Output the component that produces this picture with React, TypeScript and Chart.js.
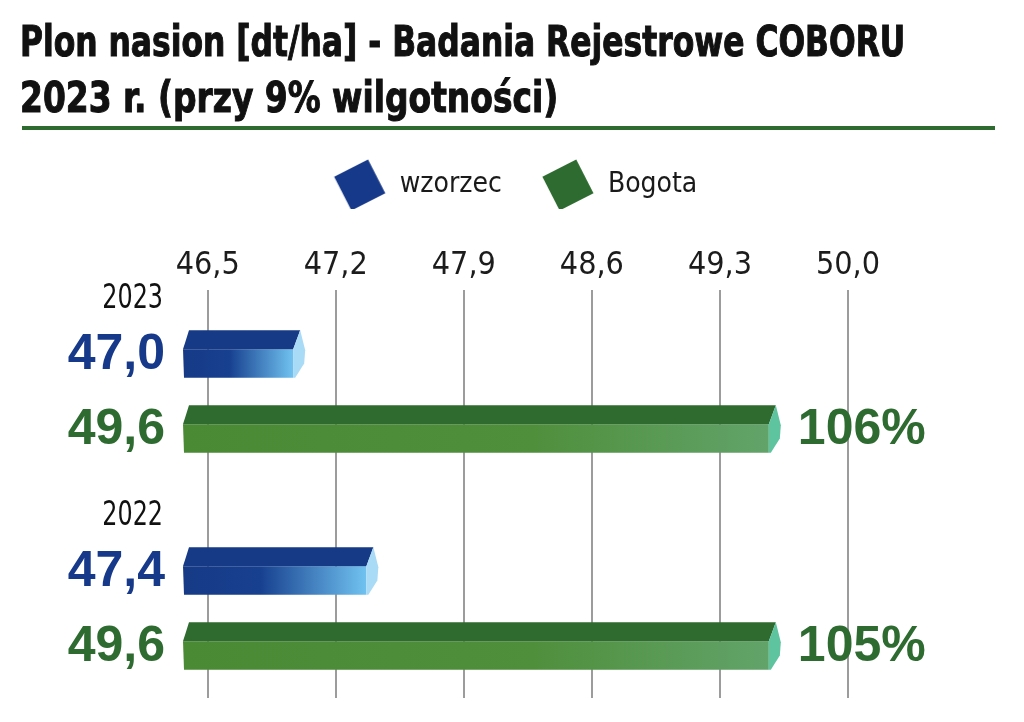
import { useEffect, useLayoutEffect, useRef } from 'react';
import Chart from 'chart.js/auto';

const years = ['2023', '2022'];
const seriesNames = ['wzorzec', 'Bogota'];
const wzorzec = [47.0, 47.4];
const bogota = [49.6, 49.6];
const bogotaPercent = [106, 105];
const tickValues = [46.5, 47.2, 47.9, 48.6, 49.3, 50.0];
const X_MIN = 46.365;
const X_MAX = 50.0;

const BLUE = '#17398a';
const GREEN = '#2e6b30';
const NARROW = '"DejaVu Sans Condensed", "DejaVu Sans", sans-serif';
const BOLD = '"Liberation Sans", Arial, sans-serif';

// colours for the fake 3D bars: top face, front gradient, end cap
const barStyles = [
  {
    top: '#163a86',
    front: [[0, '#163a86'], [0.42, '#17408f'], [1, '#70c2f0']] as [number, string][],
    cap: '#a9daf6',
  },
  {
    top: '#2f6a2f',
    front: [[0, '#4a8a35'], [0.6, '#4f8f3c'], [1, '#62a36a']] as [number, string][],
    cap: '#5ec4a0',
  },
];

const fmt = (v: number) => v.toFixed(1).replace('.', ',');

function makeIcon(color: string) {
  const c = document.createElement('canvas');
  c.width = 56;
  c.height = 56;
  const ctx = c.getContext('2d')!;
  ctx.translate(28, 28);
  ctx.rotate((-27 * Math.PI) / 180);
  ctx.fillStyle = color;
  ctx.fillRect(-19, -19, 38, 38);
  return c;
}

function drawBar(ctx: CanvasRenderingContext2D, base: number, x: number, y: number, h: number, st: typeof barStyles[0]) {
  const top = y - h / 2;
  const bottom = y + h / 2;
  const mid = top + h * 0.4;
  const xf = x - 6;

  const g = ctx.createLinearGradient(base, 0, xf, 0);
  st.front.forEach(([o, c]) => g.addColorStop(o, c));
  ctx.fillStyle = g;
  ctx.beginPath();
  ctx.moveTo(base, mid);
  ctx.lineTo(xf, mid);
  ctx.lineTo(xf, bottom);
  ctx.lineTo(base + 1, bottom);
  ctx.closePath();
  ctx.fill();

  ctx.fillStyle = st.top;
  ctx.beginPath();
  ctx.moveTo(base, mid);
  ctx.lineTo(base + 6, top);
  ctx.lineTo(xf + 7, top);
  ctx.lineTo(xf, mid);
  ctx.closePath();
  ctx.fill();

  ctx.fillStyle = st.cap;
  ctx.beginPath();
  ctx.moveTo(xf, mid);
  ctx.lineTo(xf + 7, top);
  ctx.lineTo(xf + 12, top + h * 0.42);
  ctx.lineTo(xf + 11, bottom - h * 0.3);
  ctx.lineTo(xf + 2, bottom);
  ctx.lineTo(xf, bottom);
  ctx.closePath();
  ctx.fill();
}

const decorPlugin = {
  id: 'decor',
  beforeDatasetsDraw(chart: any) {
    const { ctx, chartArea, scales } = chart;
    const xs = scales.x;
    ctx.save();
    ctx.strokeStyle = '#9c9c9c';
    ctx.lineWidth = 2;
    xs.ticks.forEach((t: any) => {
      const px = Math.round(xs.getPixelForValue(t.value));
      ctx.beginPath();
      ctx.moveTo(px, chartArea.top + 7);
      ctx.lineTo(px, chartArea.bottom - 19);
      ctx.stroke();
    });
    ctx.restore();
  },
  afterDatasetsDraw(chart: any) {
    const { ctx } = chart;
    ctx.save();
    chart.data.datasets.forEach((ds: any, di: number) => {
      const meta = chart.getDatasetMeta(di);
      meta.data.forEach((bar: any, i: number) => {
        const { x, y, base, height } = bar.getProps(['x', 'y', 'base', 'height'], true);
        drawBar(ctx, base, x, y, height, barStyles[di]);

        ctx.font = `bold 50px ${BOLD}`;
        ctx.textBaseline = 'middle';
        ctx.fillStyle = di === 0 ? BLUE : GREEN;
        ctx.textAlign = 'right';
        ctx.fillText(fmt(ds.data[i]), base - 18, y + 1);

        if (di === 1) {
          ctx.textAlign = 'left';
          ctx.fillText(`${bogotaPercent[i]}%`, x + 23, y + 1);
        }
        if (di === 0) {
          // year label, squeezed to look like a condensed face
          ctx.save();
          ctx.translate(base - 20, y - 55);
          ctx.scale(0.78, 1);
          ctx.font = `34px ${NARROW}`;
          ctx.fillStyle = '#111';
          ctx.textAlign = 'right';
          ctx.fillText(years[i], 0, 0);
          ctx.restore();
        }
      });
    });
    ctx.restore();
  },
};

export default function App() {
  const canvasRef = useRef<HTMLCanvasElement>(null);
  const line1Ref = useRef<HTMLSpanElement>(null);
  const line2Ref = useRef<HTMLSpanElement>(null);

  useLayoutEffect(() => {
    const fit = (el: HTMLSpanElement | null, target: number) => {
      if (!el) return;
      el.style.transform = `scaleX(${target / el.offsetWidth})`;
    };
    fit(line1Ref.current, 885);
    fit(line2Ref.current, 538);
  }, []);

  useEffect(() => {
    if (!canvasRef.current) return;
    const icons = [makeIcon(BLUE), makeIcon(GREEN)];
    const chart = new Chart(canvasRef.current, {
      type: 'bar',
      data: {
        labels: years,
        datasets: [
          { label: seriesNames[0], data: wzorzec, backgroundColor: 'rgba(0,0,0,0)', borderWidth: 0 },
          { label: seriesNames[1], data: bogota, backgroundColor: 'rgba(0,0,0,0)', borderWidth: 0 },
        ],
      },
      options: {
        indexAxis: 'y',
        responsive: true,
        maintainAspectRatio: false,
        animation: false,
        layout: { padding: { top: 131, left: 183, right: 176, bottom: 5 } },
        datasets: { bar: { categoryPercentage: 0.69, barPercentage: 0.633, base: X_MIN } },
        scales: {
          x: {
            type: 'linear',
            position: 'top',
            min: X_MIN,
            max: X_MAX,
            afterBuildTicks: (scale: any) => {
              scale.ticks = tickValues.map((v) => ({ value: v }));
            },
            afterFit: (scale: any) => {
              scale.height = 74;
            },
            grid: { display: false, drawTicks: false },
            border: { display: false },
            ticks: {
              color: '#1c1c1c',
              padding: 0,
              autoSkip: false,
              maxRotation: 0,
              font: { family: NARROW, size: 32, lineHeight: 1.08 },
              callback: (v: any) => fmt(Number(v)),
            },
          },
          y: { type: 'category', display: false, offset: true },
        },
        plugins: {
          legend: {
            position: 'top',
            labels: {
              usePointStyle: true,
              pointStyleWidth: 52,
              boxHeight: 28,
              padding: 40,
              color: '#1a1a1a',
              font: { family: NARROW, size: 28 },
              generateLabels: (c: any) => {
                const items = Chart.defaults.plugins.legend.labels.generateLabels(c);
                items.forEach((it: any, i: number) => {
                  it.pointStyle = icons[i];
                });
                return items;
              },
            },
          },
          tooltip: { enabled: false },
        },
      },
      plugins: [decorPlugin],
    });
    return () => chart.destroy();
  }, []);

  const lineStyle = { display: 'inline-block', transformOrigin: '0 0' } as const;

  return (
    <div style={{ position: 'absolute', left: 0, top: 0, width: 1024, height: 722, background: '#fff', overflow: 'hidden' }}>
      <div style={{ position: 'absolute', left: 0, top: 0, width: 1024, height: 722 }}>
        <canvas ref={canvasRef} />
      </div>
      <div
        style={{
          position: 'absolute',
          left: 20,
          top: 14,
          fontFamily: '"DejaVu Sans Condensed", "DejaVu Sans", sans-serif',
          fontWeight: 700,
          fontSize: 42,
          lineHeight: '56px',
          color: '#111',
          whiteSpace: 'nowrap',
          WebkitTextStroke: '1px #111',
        }}
      >
        <div>
          <span ref={line1Ref} style={lineStyle}>
            Plon nasion [dt/ha] - Badania Rejestrowe COBORU
          </span>
        </div>
        <div>
          <span ref={line2Ref} style={lineStyle}>
            2023 r. (przy 9% wilgotności)
          </span>
        </div>
      </div>
      <div style={{ position: 'absolute', left: 22, top: 126, width: 973, height: 4, background: GREEN }} />
    </div>
  );
}
